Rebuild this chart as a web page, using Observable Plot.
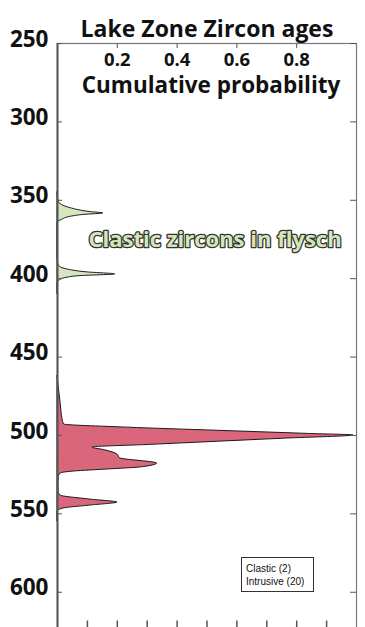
<!DOCTYPE html>
<html>
<head>
<meta charset="utf-8">
<script src="https://cdn.jsdelivr.net/npm/d3@7"></script>
<script src="https://cdn.jsdelivr.net/npm/@observablehq/plot@0.6"></script>
<style>
  html, body { margin: 0; padding: 0; background: #fff; width: 365px; height: 627px; overflow: hidden; }
  #wrap { position: relative; width: 365px; }
  #legend { position: absolute; left: 241px; top: 557px; width: 73px; height: 35px; border: 1px solid #333;
            font-family: "Liberation Sans", Arial, sans-serif; font-size: 10px; line-height: 13px; color: #111;
            padding: 4px 0 0 4px; box-sizing: border-box; background: #fff; }
</style>
</head>
<body>
<div id="wrap"><div id="chart"></div><div id="legend"></div></div>
<script>
// Data (age in Ma, relative probability 0..1)
const clasticAge = [345, 350.5, 353, 355, 357.5, 358.4, 359.3, 360.5, 362.5, 364.5, 370, 385, 390, 392, 394, 396, 397.3, 398.3, 399.5, 401, 403, 410];
const clasticP   = [0, 0.003, 0.015, 0.043, 0.11, 0.153, 0.09, 0.045, 0.015, 0, 0, 0, 0.002, 0.006, 0.03, 0.1, 0.193, 0.08, 0.03, 0.008, 0, 0];

const intrusiveAge = [462, 469, 477, 484, 490, 493, 495, 497, 499, 500, 502, 504, 506, 507.7, 509.5, 512.1, 514.6, 517.9, 520.4, 521.7, 523, 524.3, 527, 532, 536, 538.3, 540.9, 542.8, 544.7, 546.6, 548.5, 555];
const intrusiveP   = [0, 0.004, 0.009, 0.013, 0.017, 0.022, 0.232, 0.535, 0.838, 0.99, 0.763, 0.536, 0.31, 0.117, 0.16, 0.2, 0.21, 0.333, 0.277, 0.167, 0.055, 0.01, 0.004, 0.003, 0.004, 0.01, 0.11, 0.2, 0.11, 0.02, 0, 0];

const yTicks = [250, 300, 350, 400, 450, 500, 550, 600];
const xTopTicks = [0.2, 0.4, 0.6, 0.8];
const xBottomTicks = [0.1, 0.2, 0.3, 0.4, 0.5, 0.6, 0.7, 0.8, 0.9];
const title = "Lake Zone Zircon ages";
const xLabel = "Cumulative probability";
const annotation = [{x: 0.527, y: 375, text: "Clastic zircons in flysch"}];
const legendLabels = ["Clastic (2)", "Intrusive (20)"];

const clastic = clasticAge.map((a, i) => ({age: a, p: clasticP[i]}));
const intrusive = intrusiveAge.map((a, i) => ({age: a, p: intrusiveP[i]}));

const font = "'Open Sans', 'DejaVu Sans', sans-serif";
const dx = 1 / 300;          // one pixel in x data units
const dy = 50 / 78.4;        // one pixel in y data units
const yMax = 622.8;

const chart = Plot.plot({
  width: 365,
  height: 640,
  marginTop: 43,
  marginLeft: 57,
  marginRight: 9,
  marginBottom: 12.5,
  style: {fontFamily: font, background: "#fff", overflow: "visible"},
  x: {domain: [0, 1], axis: null},
  y: {domain: [250, yMax], reverse: true, axis: null},
  marks: [
    Plot.areaX(clastic, {y: "age", x: "p", fill: "#d6e7c0", stroke: "#1a1a1a", strokeWidth: 1, curve: "monotone-y"}),
    Plot.areaX(intrusive, {y: "age", x: "p", fill: "#d9667a", stroke: "#1a1a1a", strokeWidth: 1, curve: "monotone-y"}),
    Plot.frame({stroke: "#777", strokeWidth: 1.2}),
    Plot.ruleX([0], {y1: 250, y2: yMax, stroke: "#555", strokeWidth: 2}),
    // inward ticks
    Plot.ruleY(yTicks, {y: d => d, x1: 0, x2: 5 * dx, stroke: "#555"}),
    Plot.ruleY(yTicks, {y: d => d, x1: 1 - 6 * dx, x2: 1, stroke: "#555"}),
    Plot.ruleX(xTopTicks, {x: d => d, y1: 250, y2: 250 + 5 * dy, stroke: "#555"}),
    Plot.ruleX(xBottomTicks, {x: d => d, y1: yMax, y2: yMax - 7 * dy, stroke: "#555", strokeWidth: 1.5}),
    // y tick labels
    Plot.text(yTicks, {y: d => d, x: 0, dx: -9, dy: -4, text: d => String(d), textAnchor: "end",
      fontSize: 22.5, fontWeight: 700, fill: "#111"}),
    // top x tick labels
    Plot.text(xTopTicks, {x: d => d, y: 250, dy: 17, text: d => d.toFixed(1), fontSize: 18.5, fontWeight: 700, fill: "#111"}),
    // axis label & title
    Plot.text([xLabel], {frameAnchor: "top", dx: 4, dy: 34, fontSize: 22.5, fontWeight: 700, fill: "#111"}),
    Plot.text([title], {frameAnchor: "top", dy: -23, fontSize: 23, fontWeight: 700, fill: "#111"}),
    // annotation
    Plot.text(annotation, {x: "x", y: "y", text: "text", fontSize: 22, fontWeight: 700,
      fill: "#d3e6b8", stroke: "#333", strokeWidth: 2.6})
  ]
});
document.getElementById("chart").appendChild(chart);
document.getElementById("legend").innerHTML = legendLabels.map(t => `<div>${t}</div>`).join("");
</script>
</body>
</html>
